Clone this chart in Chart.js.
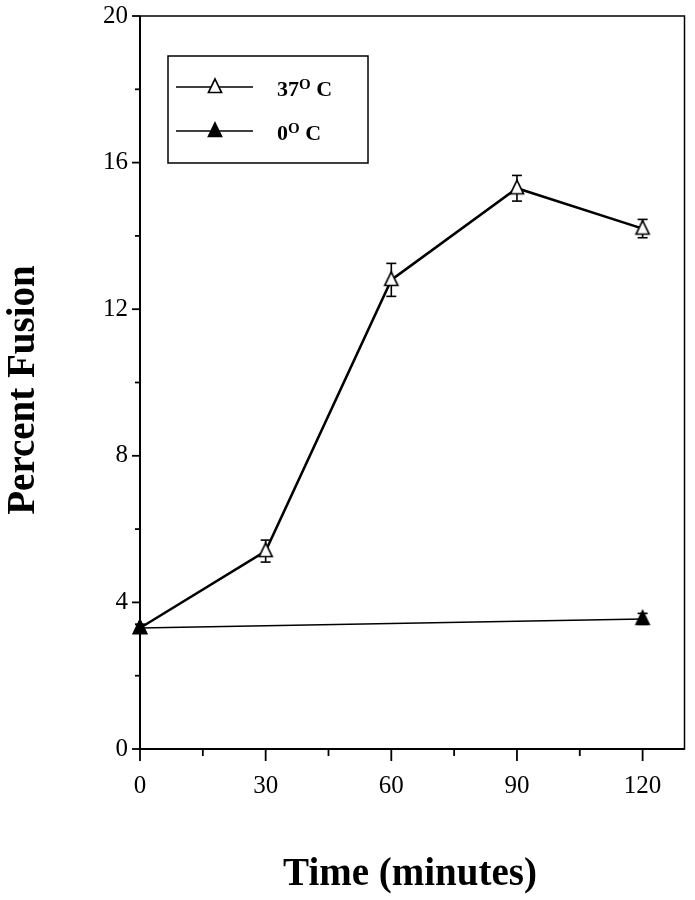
<!DOCTYPE html>
<html><head><meta charset="utf-8">
<script src="https://cdn.jsdelivr.net/npm/chart.js@4"></script>
<style>html,body{margin:0;padding:0;background:#fff}#wrap{width:695px;height:900px}</style>
</head><body><div id="wrap"><canvas id="c" width="695" height="900"></canvas></div>
<script>
// ---- data ----
const warmTimes = [0, 30, 60, 90, 120];
const warmValues = [3.3, 5.4, 12.8, 15.3, 14.2];
const warmErrors = [0.1, 0.3, 0.45, 0.35, 0.25];
const coldTimes = [0, 120];
const coldValues = [3.3, 3.55];
const coldErrors = [0.1, 0.15];
const legendBase = ['37', '0'];
const legendSup = 'O';
const legendTail = ' C';
const xTicks = [0, 30, 60, 90, 120];
const xMinorTicks = [15, 45, 75, 105];
const yTicks = [0, 4, 8, 12, 16, 20];
const yMinorTicks = [2, 6, 10, 14, 18];
const xTitle = 'Time (minutes)';
const yTitle = 'Percent Fusion';

const SERIF = '"Liberation Serif", "Times New Roman", "DejaVu Serif", serif';

function seg(ctx, x1, y1, x2, y2) { ctx.beginPath(); ctx.moveTo(x1, y1); ctx.lineTo(x2, y2); ctx.stroke(); }

// triangle marker drawn into a small canvas; point sits at (cx, cy)
function triPath(ctx, cx, cy) {
  ctx.beginPath();
  ctx.moveTo(cx, cy - 8);
  ctx.lineTo(cx + 6.5, cy + 5.5);
  ctx.lineTo(cx - 6.5, cy + 5.5);
  ctx.closePath();
}
function makeTri(fill) {
  const c = document.createElement('canvas');
  c.width = 20; c.height = 20;
  const g = c.getContext('2d');
  triPath(g, 10, 10);
  g.fillStyle = fill; g.fill();
  g.lineWidth = 1.7; g.strokeStyle = '#000'; g.lineJoin = 'miter'; g.stroke();
  return c;
}
const openTri = makeTri('#fff');
const fillTri = makeTri('#000');

const decor = {
  id: 'decor',
  beforeDatasetsDraw(chart) {
    const { ctx, chartArea: a, scales: { x, y } } = chart;
    ctx.save();
    ctx.strokeStyle = '#000';
    ctx.lineWidth = 1.5;
    ctx.strokeRect(a.left, a.top, a.right - a.left, a.bottom - a.top);
    ctx.lineWidth = 2;
    seg(ctx, a.left, a.top, a.left, a.bottom + 1);
    seg(ctx, a.left - 1, a.bottom, a.right, a.bottom);
    ctx.lineWidth = 1.8;
    xTicks.forEach(v => { const px = x.getPixelForValue(v); seg(ctx, px, a.bottom, px, a.bottom + 12); });
    xMinorTicks.forEach(v => { const px = x.getPixelForValue(v); seg(ctx, px, a.bottom, px, a.bottom + 7); });
    yTicks.forEach(v => { const py = y.getPixelForValue(v); seg(ctx, a.left - 8, py, a.left, py); });
    yMinorTicks.forEach(v => { const py = y.getPixelForValue(v); seg(ctx, a.left - 5, py, a.left, py); });
    // error bars
    ctx.lineWidth = 1.6;
    const bars = (ts, vs, es) => ts.forEach((t, i) => {
      const px = x.getPixelForValue(t);
      const top = y.getPixelForValue(vs[i] + es[i]);
      const bot = y.getPixelForValue(vs[i] - es[i]);
      seg(ctx, px, top, px, bot);
      seg(ctx, px - 5, top, px + 5, top);
      seg(ctx, px - 5, bot, px + 5, bot);
    });
    bars(warmTimes, warmValues, warmErrors);
    bars(coldTimes, coldValues, coldErrors);
    ctx.restore();
  },
  afterDraw(chart) {
    const { ctx } = chart;
    ctx.save();
    ctx.fillStyle = '#000';
    ctx.strokeStyle = '#000';
    // axis titles
    ctx.font = 'bold 39px ' + SERIF;
    ctx.textAlign = 'center';
    ctx.textBaseline = 'middle';
    ctx.fillText(xTitle, 410, 875);
    ctx.save();
    ctx.translate(24, 390);
    ctx.rotate(-Math.PI / 2);
    ctx.fillText(yTitle, 0, 0);
    ctx.restore();
    // legend box
    const bx = 168, by = 56, bw = 200, bh = 107;
    ctx.lineWidth = 1.5;
    ctx.strokeRect(bx, by, bw, bh);
    const rows = [87, 131];
    const fills = ['#fff', '#000'];
    rows.forEach((ry, i) => {
      ctx.lineWidth = 1.7;
      seg(ctx, 176, ry, 253, ry);
      triPath(ctx, 215, ry);
      ctx.fillStyle = fills[i];
      ctx.fill();
      ctx.lineWidth = 1.7;
      ctx.stroke();
      ctx.fillStyle = '#000';
      ctx.textAlign = 'left';
      ctx.textBaseline = 'alphabetic';
      ctx.font = 'bold 22px ' + SERIF;
      const base = legendBase[i];
      const tx = 277, ty = ry + 9;
      ctx.fillText(base, tx, ty);
      let w = ctx.measureText(base).width;
      ctx.font = 'bold 15px ' + SERIF;
      ctx.fillText(legendSup, tx + w, ty - 7);
      w += ctx.measureText(legendSup).width;
      ctx.font = 'bold 22px ' + SERIF;
      ctx.fillText(legendTail, tx + w, ty);
    });
    ctx.restore();
  }
};

new Chart(document.getElementById('c'), {
  type: 'line',
  data: {
    datasets: [
      {
        label: legendBase[1],
        data: coldTimes.map((t, i) => ({ x: t, y: coldValues[i] })),
        borderColor: '#000', borderWidth: 1.5,
        pointStyle: fillTri, pointRadius: 8,
        tension: 0, clip: false, order: 0
      },
      {
        label: legendBase[0],
        data: warmTimes.map((t, i) => ({ x: t, y: warmValues[i] })),
        borderColor: '#000', borderWidth: 2.5,
        pointStyle: openTri, pointRadius: 8,
        tension: 0, clip: false, order: 1
      }
    ]
  },
  options: {
    responsive: false, animation: false, devicePixelRatio: 1,
    layout: { padding: { top: 16, right: 7, left: 0, bottom: 0 } },
    plugins: { legend: { display: false }, tooltip: { enabled: false } },
    scales: {
      x: {
        type: 'linear', min: 0, max: 130,
        afterBuildTicks: s => { s.ticks = xTicks.map(v => ({ value: v })); },
        afterFit: s => { s.height = 151; s.paddingLeft = 0; s.paddingRight = 0; },
        grid: { display: false, drawTicks: false }, border: { display: false },
        ticks: { color: '#000', font: { family: SERIF, size: 25 }, padding: 22, maxRotation: 0 }
      },
      y: {
        type: 'linear', min: 0, max: 20,
        afterBuildTicks: s => { s.ticks = yTicks.map(v => ({ value: v })); },
        afterFit: s => { s.width = 140; s.paddingTop = 0; s.paddingBottom = 0; },
        grid: { display: false, drawTicks: false }, border: { display: false },
        ticks: { color: '#000', font: { family: SERIF, size: 25 }, padding: 12 }
      }
    }
  },
  plugins: [decor]
});
</script></body></html>
